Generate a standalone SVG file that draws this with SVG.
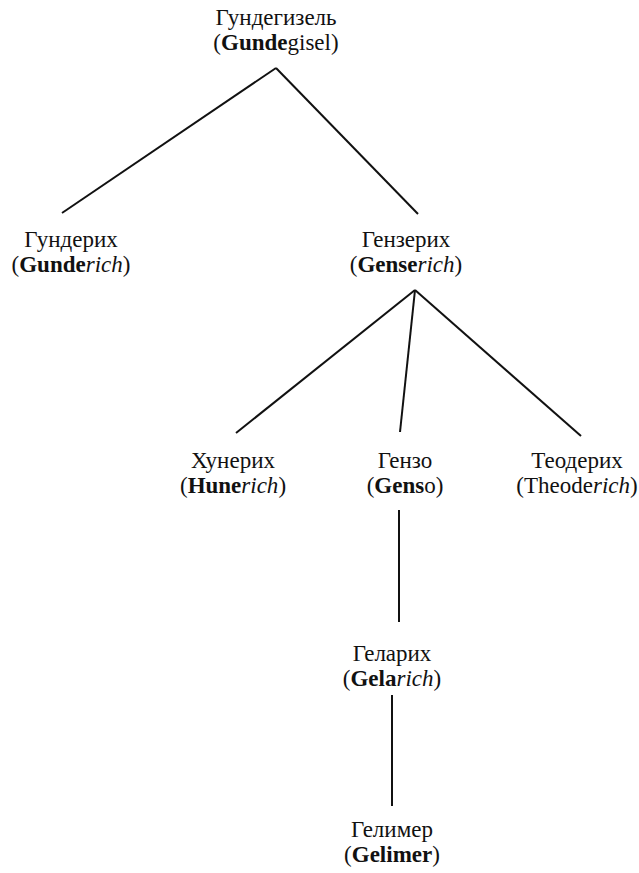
<svg xmlns="http://www.w3.org/2000/svg" width="639" height="873" viewBox="0 0 639 873" font-family="'Liberation Serif', 'Times New Roman', serif">
<style>
text{font-family:'Liberation Serif','Times New Roman',serif;font-size:23px;fill:#111;text-anchor:middle}
.b{font-weight:bold}
.i{font-style:italic}
.c line{stroke:#111;stroke-width:2;fill:none}
</style>
<rect width="639" height="873" fill="#fff"/>
<g class="c" id="connectors">
<line x1="276" y1="68" x2="62" y2="213"/>
<line x1="276" y1="68" x2="418" y2="214"/>
<line x1="415" y1="290" x2="236" y2="433"/>
<line x1="415" y1="290" x2="400" y2="432"/>
<line x1="415" y1="290" x2="581" y2="436"/>
<line x1="399" y1="510" x2="399" y2="622"/>
<line x1="392" y1="695" x2="392" y2="806"/>
</g>
<g id="gundegisel"><text x="276" y="25">Гундегизель</text><text x="276" y="50">(<tspan class="b">Gunde</tspan>gisel)</text></g>
<g id="gunderich"><text x="71" y="247">Гундерих</text><text x="71" y="272">(<tspan class="b">Gunde</tspan><tspan class="i">rich</tspan>)</text></g>
<g id="genserich"><text x="406" y="247">Гензерих</text><text x="406" y="272">(<tspan class="b">Gense</tspan><tspan class="i">rich</tspan>)</text></g>
<g id="hunerich"><text x="233" y="468">Хунерих</text><text x="233" y="493">(<tspan class="b">Hune</tspan><tspan class="i">rich</tspan>)</text></g>
<g id="genso"><text x="405" y="468">Гензо</text><text x="405" y="493">(<tspan class="b">Gens</tspan>o)</text></g>
<g id="theoderich"><text x="577" y="468">Теодерих</text><text x="577" y="493">(Theode<tspan class="i">rich</tspan>)</text></g>
<g id="gelarich"><text x="392" y="661">Геларих</text><text x="392" y="686">(<tspan class="b">Gela</tspan><tspan class="i">rich</tspan>)</text></g>
<g id="gelimer"><text x="392" y="837">Гелимер</text><text x="392" y="862">(<tspan class="b">Gelimer</tspan>)</text></g>
</svg>
